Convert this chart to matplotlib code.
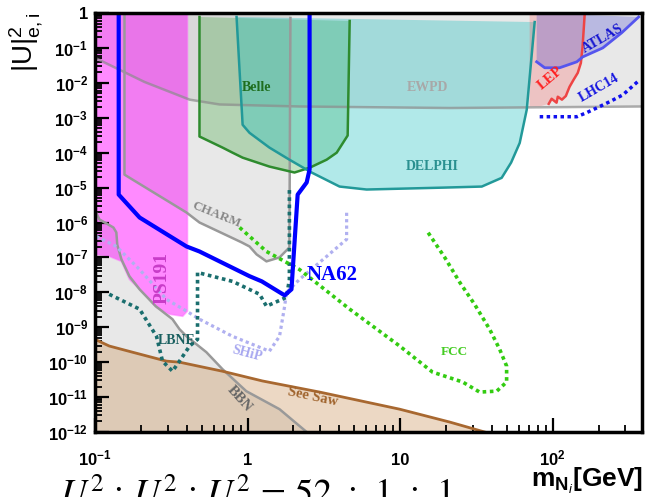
import matplotlib
matplotlib.use('Agg')
import matplotlib.pyplot as plt
from matplotlib.ticker import FixedLocator, LogLocator, NullFormatter

plt.rcParams['mathtext.fontset'] = 'custom'
plt.rcParams['mathtext.rm'] = 'Liberation Sans'
plt.rcParams['mathtext.it'] = 'Liberation Sans:italic'
plt.rcParams['mathtext.bf'] = 'Liberation Sans:bold'

XMIN, XMAX = 0.1, 385.0
YMIN, YMAX = 1e-12, 1.0

# excluded / sensitivity regions: heavy neutrino mass m_N [GeV] vs |U_e|^2
ewpd_m = [0.1, 0.107, 0.211, 0.417, 0.655, 2.19, 21.1, 372, 385]
ewpd_u = [0.052, 0.045, 0.0106, 0.0033, 0.0024, 0.0021, 0.0019, 0.0021, 0.0021]

charm_m = [0.156, 0.156, 0.176, 0.398, 0.484, 0.914, 1.03, 1.146, 1.33, 1.62, 1.88, 1.91, 1.91]
charm_u = [1.0, 2.35e-5, 1.7e-5, 1.93e-6, 1.0e-6, 2.7e-7, 2.06e-7, 1.22e-7, 7.7e-8, 1.0e-7, 1.93e-7, 0.72, 1.0]

bbn_m = [0.1, 0.107, 0.132, 0.138, 0.14, 0.149, 0.168, 0.196, 0.25, 0.322, 0.358, 0.398,
         0.537, 0.685, 0.98, 1.62, 2.44]
bbn_u = [2.2e-6, 1.22e-6, 7.2e-7, 5.2e-7, 2.3e-7, 8.8e-8, 2.9e-8, 1.22e-8, 4.0e-9, 1.7e-9,
         8.8e-10, 5.5e-10, 1.93e-10, 6.3e-11, 1.48e-11, 4.5e-12, 1.0e-12]

seesaw_m = [0.1, 0.124, 0.176, 0.294, 0.358, 0.685, 1.25, 2.97, 9.93, 21.1, 35.8]
seesaw_u = [4.5e-10, 2.9e-10, 1.93e-10, 1.07e-10, 1.0e-10, 5.5e-11, 2.9e-11, 1.39e-11,
            4.5e-12, 1.93e-12, 1.0e-12]

ps191_m = [0.1, 0.1, 0.124, 0.149, 0.168, 0.218, 0.253, 0.308, 0.376, 0.404, 0.404]
ps191_u = [1.0, 1.22e-7, 1.07e-7, 7.7e-8, 2.35e-8, 7.7e-9, 3.7e-9, 2.35e-9, 2.06e-9, 2.9e-9, 1.0]

belle_m = [0.484, 0.484, 0.685, 0.797, 0.928, 1.39, 2.03, 2.55, 3.3, 3.84, 4.53, 4.67]
belle_u = [0.77, 2.9e-4, 1.4e-4, 1.0e-4, 7.2e-5, 4.0e-5, 2.7e-5, 3.7e-5, 6.3e-5, 1.0e-4, 3.1e-4, 0.59]

delphi_m = [0.847, 0.928, 1.03, 1.39, 1.88, 2.63, 4.01, 6.03, 19.6, 34.3, 46.3, 53.4, 60.8, 67.6, 76.2]
delphi_u = [0.77, 6.3e-4, 3.7e-4, 1.4e-4, 6.3e-5, 2.7e-5, 1.07e-5, 8.8e-6, 1.0e-5, 1.07e-5,
            1.9e-5, 5.2e-5, 1.9e-4, 1.7e-3, 0.55]

lep_m = [162, 157, 153, 146, 137, 129, 125, 122, 115, 108, 106, 98.4, 94.2, 82.2, 70.6]
lep_u = [0.88, 0.107, 0.037, 0.0193, 0.0122, 0.0077, 0.0055, 0.0042, 0.0033, 0.004, 0.0027,
         0.0035, 0.0025, 0.0021, 0.0021]

atlas_m = [78.5, 88.7, 111, 144, 157, 213, 283, 366]
atlas_u = [0.04, 0.027, 0.027, 0.04, 0.055, 0.1, 0.27, 0.77]

lhc14_m = [82.2, 144, 167, 194, 237, 288, 372]
lhc14_u = [1.07e-3, 1.07e-3, 1.4e-3, 1.9e-3, 2.9e-3, 4.5e-3, 0.0122]

na62_m = [0.143, 0.143, 0.196, 0.398, 0.484, 1.03, 1.24, 1.75, 1.94, 2.13, 2.44, 2.55, 2.55]
na62_u = [1.0, 6.3e-6, 1.39e-6, 2.06e-7, 1.48e-7, 2.9e-8, 2.06e-8, 8.2e-9, 1.22e-8, 6.3e-6,
          1.4e-5, 3.3e-5, 1.0]

ship_m = [0.102, 0.138, 0.196, 0.294, 0.398, 0.484, 0.797, 1.39, 1.62, 1.75, 1.80, 2.19, 3.3, 4.46, 4.46]
ship_u = [4.0e-7, 2.06e-7, 4.5e-8, 6.3e-9, 2.9e-9, 1.7e-9, 5.5e-10, 2.06e-10, 5.5e-10, 4.0e-9,
          1.0e-8, 2.35e-8, 1.07e-7, 3.3e-7, 1.93e-6]

lbne_m = [0.124, 0.196, 0.253, 0.277, 0.322, 0.358, 0.417, 0.47, 0.47, 0.797, 1.2, 1.33, 1.80, 1.88, 1.88]
lbne_u = [8.8e-9, 3.3e-9, 5.5e-10, 1.07e-10, 5.5e-11, 1.07e-10, 2.9e-10, 4.5e-10, 3.7e-8, 2.06e-8,
          8.8e-9, 4.0e-9, 7.2e-9, 2.35e-8, 8.8e-6]

fcc_m = [0.887, 1.33, 2.19, 4.67, 9.93, 16.3, 25.7, 33.2, 43.0, 49.9, 49.9, 44.9, 38.6, 30.8, 24.6, 19.6, 15.1]
fcc_u = [7.2e-7, 1.48e-7, 4.5e-8, 3.3e-9, 2.9e-10, 5.2e-11, 2.7e-11, 1.39e-11, 1.48e-11, 2.7e-11,
         7.7e-11, 2.35e-10, 8.8e-10, 4.5e-9, 1.93e-8, 1.0e-7, 5.5e-7]

x_ticks = [0.1, 1, 10, 100]
x_ticklabels = [r'$\mathbf{10^{-1}}$', '1', '10', r'$\mathbf{10^{2}}$']
y_ticks = [10.0 ** -k for k in range(13)]
y_ticklabels = ['1'] + [r'$\mathbf{10^{-%d}}$' % k for k in range(1, 13)]

fig = plt.figure(figsize=(6.47, 4.97), dpi=100)
ax = fig.add_axes([95 / 647, 65 / 497, 547 / 647, 419 / 497])
ax.set_xscale('log')
ax.set_yscale('log')
ax.set_xlim(XMIN, XMAX)
ax.set_ylim(YMIN, YMAX)

gray = '#b4b4b4'
# EWPD band (from boundary up to the top)
ax.fill(ewpd_m + [XMAX, XMIN], ewpd_u + [YMAX, YMAX], facecolor=gray, alpha=0.3, lw=0)
ax.plot(ewpd_m, ewpd_u, color='#8c8c8c', lw=1.8, alpha=0.7)
ax.plot([XMAX * 0.995] * 2, [ewpd_u[-1], YMAX], color='#8c8c8c', lw=1.8, alpha=0.7)
# CHARM
ax.fill(charm_m, charm_u, facecolor=gray, alpha=0.3, lw=0)
ax.plot(charm_m[:-1], charm_u[:-1], color='#999999', lw=1.8)
# BBN
ax.fill(bbn_m + [XMIN], bbn_u + [YMIN], facecolor=gray, alpha=0.3, lw=0)
ax.plot(bbn_m, bbn_u, color='#999999', lw=1.8)
# See saw
ax.fill(seesaw_m + [XMIN], seesaw_u + [YMIN], facecolor='#cd9a66', alpha=0.38, lw=0)
ax.plot(seesaw_m, seesaw_u, color='#a86830', lw=2)
# PS191
ax.fill(ps191_m, ps191_u, facecolor='#ff00ff', alpha=0.46, edgecolor='#ff66ff', lw=1.2)
# Belle
ax.fill(belle_m, belle_u, facecolor='#2ca02c', alpha=0.28, lw=0)
ax.plot(belle_m, belle_u, color='#2e8b2e', lw=1.8)
# DELPHI
ax.fill(delphi_m, delphi_u, facecolor='#20c0c0', alpha=0.35, lw=0)
ax.plot(delphi_m, delphi_u, color='#229999', lw=1.8)
# LEP
ax.fill(lep_m + [lep_m[-1], lep_m[0]], lep_u + [YMAX, YMAX], facecolor='#ff4040', alpha=0.22, lw=0)
ax.plot(lep_m[:-2], lep_u[:-2], color='#ee4444', lw=1.8)
# ATLAS
ax.fill(atlas_m + [atlas_m[0]], atlas_u + [YMAX], facecolor='#4040d0', alpha=0.28, lw=0)
ax.plot(atlas_m, atlas_u, color='#5555ee', lw=2)
# projections / bounds as lines
dot = (0, (1, 1))
ax.plot(lhc14_m, lhc14_u, color='#1010ee', lw=2.5, ls=dot)
ax.plot(ship_m, ship_u, color='#b0b0f0', lw=2.3, ls=dot)
ax.plot(lbne_m, lbne_u, color='#1a6e6e', lw=2.6, ls=dot)
ax.plot(fcc_m, fcc_u, color='#33cc11', lw=2.6, ls=dot)
ax.plot(na62_m, na62_u, color='#0000ff', lw=3)

serif = 'Liberation Serif'
labels = [
    ('Belle', 1.15, 0.0072, 0, '#1e6e1e', 10),
    ('EWPD', 15.1, 0.0072, 0, '#a8a8a8', 10),
    ('DELPHI', 16.3, 4.0e-5, 0, '#2a9090', 10),
    ('LEP', 97, 0.0139, 40, '#ff2020', 10.5),
    ('ATLAS', 213, 0.19, 30, '#1515d0', 10),
    ('LHC14', 200, 0.0072, 30, '#1515e0', 10),
    ('CHARM', 0.625, 1.7e-6, -22, '#888888', 9.5),
    ('PS191', 0.277, 2.5e-8, 90, '#c83cc8', 14),
    ('NA62', 3.56, 3.06e-8, 0, '#0000ff', 15),
    ('LBNE', 0.342, 4.3e-10, 0, '#1a6060', 10),
    ('SHiP', 1.0, 1.8e-10, -15, '#a8a8f0', 10),
    ('FCC', 22.7, 1.93e-10, 0, '#44cc22', 9.5),
    ('BBN', 0.887, 8.8e-12, -48, '#666666', 10.5),
    ('See Saw', 2.67, 1.0e-11, -12, '#a0642d', 10.5),
]
for txt, xm, yu, rot, col, fs in labels:
    ax.text(xm, yu, txt, rotation=rot, color=col, fontsize=fs, fontweight='bold',
            fontstyle='normal', family=serif, ha='center', va='center',
            rotation_mode='anchor')

ax.xaxis.set_major_locator(FixedLocator(x_ticks))
ax.set_xticklabels(x_ticklabels, fontsize=12, fontweight='bold', family='Liberation Sans')
ax.xaxis.set_minor_locator(LogLocator(base=10, subs=range(2, 10), numticks=20))
ax.xaxis.set_minor_formatter(NullFormatter())
ax.yaxis.set_major_locator(FixedLocator(y_ticks))
ax.set_yticklabels(y_ticklabels, fontsize=12, fontweight='bold', family='Liberation Sans')
ax.yaxis.set_minor_locator(LogLocator(base=10, subs=range(2, 10), numticks=30))
ax.yaxis.set_minor_formatter(NullFormatter())
ax.tick_params(which='both', direction='in', top=False, right=False, color='black')
ax.tick_params(which='major', length=10, width=1.6)
ax.tick_params(which='minor', length=5, width=1.3)
ax.tick_params(axis='x', which='major', pad=24)
ax.tick_params(axis='y', which='major', pad=5)
for lab in ax.get_xticklabels():
    lab.set_verticalalignment('baseline')
for sp in ax.spines.values():
    sp.set_linewidth(2.5)

fig.text(0.04, 0.975, r'|U|$^2_{\mathrm{e,i}}$', rotation=90, ha='center', va='top',
         fontsize=20, family='Liberation Sans')
fig.text(643 / 647, 10 / 497, r'm$_{\mathbf{N}_i}$[GeV]', ha='right', va='baseline',
         fontsize=19, fontweight='bold', family='Liberation Sans')
fig.text(60 / 647, -7 / 497,
         r'$U_e^2\,:\,U_\mu^2\,:\,U_\tau^2\,=\,52\;\,:\;\,1\;\,:\;\,1$',
         ha='left', va='baseline', fontsize=26, math_fontfamily='stix')

fig.savefig('out.png', dpi=100)
